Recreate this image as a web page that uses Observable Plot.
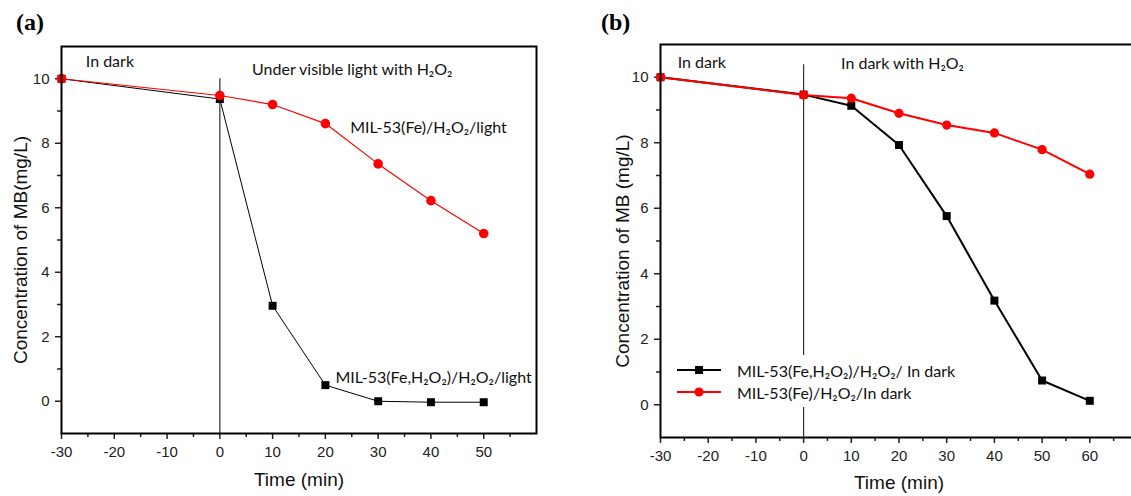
<!DOCTYPE html>
<html>
<head>
<meta charset="utf-8">
<script src="https://cdn.jsdelivr.net/npm/d3@7"></script>
<script src="https://cdn.jsdelivr.net/npm/@observablehq/plot@0.6"></script>
<style>
  html, body { margin: 0; padding: 0; background: #fff; }
  #wrap { position: relative; width: 1131px; height: 496px; overflow: hidden; background: #fff; }
  .panel { position: absolute; top: 0; }
  .tag { position: absolute; font-family: "Liberation Serif", "Times New Roman", serif; font-weight: bold; font-size: 24px; line-height: 1; color: #000; }
  .legend { position: absolute; background: #fff; font-family: Lato, "Open Sans", sans-serif; font-size: 16px; color: #111; padding: 4px 6px 4px 6px; }
  .legend .row { display: flex; align-items: center; height: 22px; white-space: nowrap; }
  .legend svg { margin-right: 16px; }
</style>
</head>
<body>
<div id="wrap">
  <div class="tag" style="left:16px; top:10px;">(a)</div>
  <div class="tag" style="left:601px; top:10px;">(b)</div>
</div>
<script>
// ---------- data ----------
const timeA = [-30, 0, 10, 20, 30, 40, 50];
const fePeroxLightA = [10, 9.37, 2.96, 0.5, 0.0, -0.03, -0.03];
const feLightA = [10, 9.48, 9.2, 8.61, 7.36, 6.22, 5.2];

const timeB = [-30, 0, 10, 20, 30, 40, 50, 60];
const fePeroxDarkB = [10, 9.47, 9.13, 7.93, 5.76, 3.18, 0.74, 0.12];
const feDarkB = [10, 9.46, 9.36, 8.9, 8.54, 8.3, 7.79, 7.04];

const seriesNamesA = ["MIL-53(Fe,H₂O₂)/H₂O₂/light", "MIL-53(Fe)/H₂O₂/light"];
const seriesNamesB = ["MIL-53(Fe,H₂O₂)/H₂O₂/ In dark", "MIL-53(Fe)/H₂O₂/In dark"];
const seriesColors = ["#000000", "#ff0000"];
const seriesSymbols = ["square", "circle"];

const phaseA = ["In dark", "Under visible light with H₂O₂"];
const phaseB = ["In dark", "In dark with H₂O₂"];

const xTicksA = [-30, -20, -10, 0, 10, 20, 30, 40, 50];
const xMinorA = [-25, -15, -5, 5, 15, 25, 35, 45, 55];
const xTicksB = [-30, -20, -10, 0, 10, 20, 30, 40, 50, 60];
const xMinorB = [-25, -15, -5, 5, 15, 25, 35, 45, 55, 65];
const yTicks = [0, 2, 4, 6, 8, 10];
const yMinor = [1, 3, 5, 7, 9];

const xTitle = "Time (min)";
const yTitleA = "Concentration of MB(mg/L)";
const yTitleB = "Concentration of MB (mg/L)";

// ---------- helpers ----------
const rows = (t, v) => t.map((x, i) => ({t: x, c: v[i]}));
const fmt = d => String(d);
const annFont = "Lato, 'Open Sans', sans-serif";

function axes(xTicks, xMinor) {
  return [
    Plot.axisX({ticks: xTicks, tickSize: 6, tickPadding: 7, tickFormat: fmt, fontSize: 15, strokeWidth: 1.5, label: null}),
    Plot.axisX({ticks: xMinor, tickSize: 4, tickFormat: () => "", strokeWidth: 1.5, label: null}),
    Plot.axisY({ticks: yTicks, tickSize: 6, tickPadding: 6, tickFormat: fmt, fontSize: 15, strokeWidth: 1.5, label: null}),
    Plot.axisY({ticks: yMinor, tickSize: 4, tickFormat: () => "", strokeWidth: 1.5, label: null})
  ];
}

function series(t, vals, i, lw, r) {
  const d = rows(t, vals);
  return [
    Plot.line(d, {x: "t", y: "c", stroke: seriesColors[i], strokeWidth: lw}),
    Plot.dot(d, {x: "t", y: "c", symbol: seriesSymbols[i], fill: seriesColors[i], stroke: "none", r: r})
  ];
}

// ---------- panel (a) ----------
const plotA = Plot.plot({
  width: 560, height: 496,
  marginLeft: 61, marginRight: 24, marginTop: 46, marginBottom: 63,
  style: {fontFamily: "'Liberation Sans', Arial, sans-serif", color: "#222", background: "transparent", overflow: "visible"},
  x: {domain: [-30, 60], label: null},
  y: {domain: [-1, 11], label: null},
  marks: [
    ...axes(xTicksA, xMinorA),
    Plot.ruleX([0], {y1: -1, y2: 10, stroke: "#555", strokeWidth: 1.5}),
    ...series(timeA, fePeroxLightA, 0, 1, 4.5),
    ...series(timeA, feLightA, 1, 1.2, 4.8),
    Plot.text([phaseA[0]], {x: -25.4, y: 10.52, textAnchor: "start", fontSize: 16, fontFamily: annFont, fill: "#111"}),
    Plot.text([phaseA[1]], {x: 6.1, y: 10.26, textAnchor: "start", fontSize: 16, fontFamily: annFont, fill: "#111"}),
    Plot.text([seriesNamesA[1]], {x: 24.7, y: 8.48, textAnchor: "start", fontSize: 16, fontFamily: annFont, fill: "#111"}),
    Plot.text([seriesNamesA[0]], {x: 21.9, y: 0.73, textAnchor: "start", fontSize: 16, fontFamily: annFont, fill: "#111"}),
    Plot.text([xTitle], {frameAnchor: "bottom", textAnchor: "middle", dy: 52, fontSize: 19, fill: "#111"}),
    Plot.text([yTitleA], {frameAnchor: "left", textAnchor: "middle", dx: -41, dy: 10, rotate: -90, fontSize: 19, fill: "#111"}),
    Plot.frame({stroke: "#000", strokeWidth: 2})
  ]
});
plotA.classList.add("panel");
plotA.style.left = "0px";
document.getElementById("wrap").appendChild(plotA);

// ---------- panel (b) ----------
const plotB = Plot.plot({
  width: 600, height: 496,
  marginLeft: 100, marginRight: 23, marginTop: 44, marginBottom: 59,
  style: {fontFamily: "'Liberation Sans', Arial, sans-serif", color: "#222", background: "transparent", overflow: "visible"},
  x: {domain: [-30, 70], label: null},
  y: {domain: [-1, 11], label: null},
  marks: [
    ...axes(xTicksB, xMinorB),
    Plot.ruleX([0], {y1: -1, y2: 10.38, stroke: "#333", strokeWidth: 1.2}),
    ...series(timeB, fePeroxDarkB, 0, 2, 4.5),
    ...series(timeB, feDarkB, 1, 2, 4.6),
    Plot.text([phaseB[0]], {x: -26.4, y: 10.44, textAnchor: "start", fontSize: 16, fontFamily: annFont, fill: "#111"}),
    Plot.text([phaseB[1]], {x: 7.85, y: 10.41, textAnchor: "start", fontSize: 16, fontFamily: annFont, fill: "#111"}),
    Plot.text([xTitle], {frameAnchor: "bottom", textAnchor: "middle", dy: 51, fontSize: 19, fill: "#111"}),
    Plot.text([yTitleB], {frameAnchor: "left", textAnchor: "middle", dx: -38, dy: 10, rotate: -90, fontSize: 19, fill: "#111"}),
    Plot.frame({stroke: "#000", strokeWidth: 2})
  ]
});
plotB.classList.add("panel");
plotB.style.left = "560px";
document.getElementById("wrap").appendChild(plotB);

// ---------- legend for (b) ----------
const legend = document.createElement("div");
legend.className = "legend";
legend.style.left = "671px";
legend.style.top = "355px";
seriesNamesB.forEach((name, i) => {
  const row = document.createElement("div");
  row.className = "row";
  const sym = seriesSymbols[i] === "square"
    ? `<rect x="18" y="3" width="8" height="8" fill="${seriesColors[i]}"/>`
    : `<circle cx="22" cy="7" r="4.6" fill="${seriesColors[i]}"/>`;
  row.innerHTML = `<svg width="44" height="14"><line x1="0" x2="44" y1="7" y2="7" stroke="${seriesColors[i]}" stroke-width="2"/>${sym}</svg><span>${name}</span>`;
  legend.appendChild(row);
});
document.getElementById("wrap").appendChild(legend);
</script>
</body>
</html>
